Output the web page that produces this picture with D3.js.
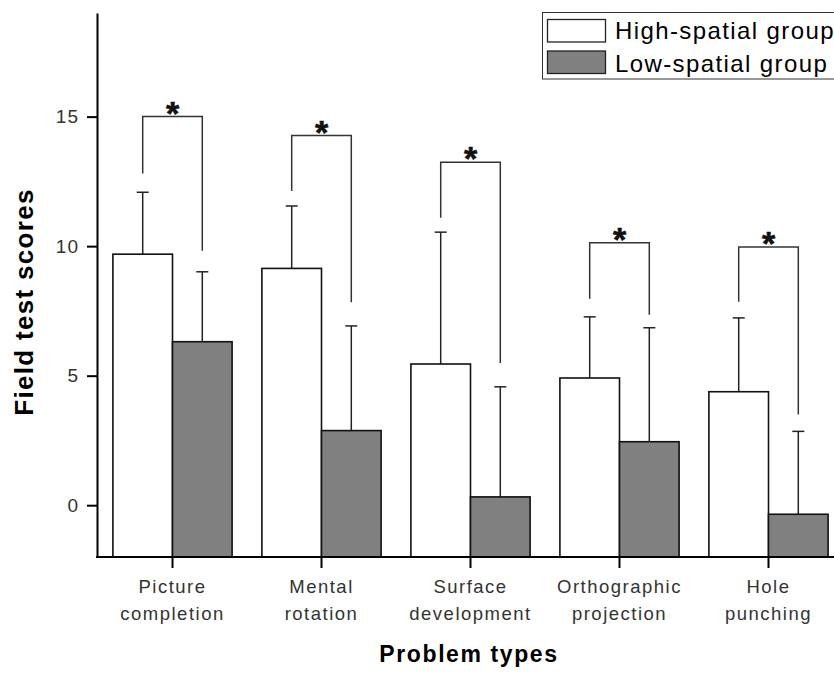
<!DOCTYPE html>
<html>
<head>
<meta charset="utf-8">
<script src="https://cdn.jsdelivr.net/npm/d3@7"></script>
<style>
  html, body { margin: 0; padding: 0; background: #fff; }
  svg { display: block; }
  text { font-family: "Liberation Sans", Arial, sans-serif; }
</style>
</head>
<body>
<svg id="chart" width="834" height="673"></svg>
<script>
// ---- data ----
const categories = [["Picture", "completion"], ["Mental", "rotation"], ["Surface", "development"], ["Orthographic", "projection"], ["Hole", "punching"]];
const seriesNames = ["High-spatial group", "Low-spatial group"];
const highMeans = [9.69, 9.14, 5.45, 4.91, 4.38];
const highSD = [2.39, 2.41, 5.09, 2.36, 2.85];
const lowMeans = [6.31, 2.88, 0.32, 2.45, -0.35];
const lowSD = [2.70, 4.04, 4.25, 4.40, 3.20];
const bracketTop = [15.0, 14.27, 13.24, 10.13, 9.97];
const bracketLeftEnd = [12.8, 12.13, 11.1, 7.97, 7.85];
const bracketRightEnd = [9.82, 7.83, 5.49, 7.35, 3.5];
const yTicks = [0, 5, 10, 15];
const yDomain = [-2, 19];

const svg = d3.select("#chart");
const keys = categories.map(c => c.join(" "));

const y = d3.scaleLinear().domain(yDomain).range([557, 13]);
const x0 = d3.scaleBand().domain(keys).range([98, 843]).paddingInner(0.2).paddingOuter(0.1);
const x1 = d3.scaleBand().domain(seriesNames).range([0, x0.bandwidth()]);
const fills = {"High-spatial group": "#ffffff", "Low-spatial group": "#808080"};

const rows = keys.map((k, i) => ({
  key: k, i,
  vals: [
    {s: seriesNames[0], m: highMeans[i], sd: highSD[i]},
    {s: seriesNames[1], m: lowMeans[i], sd: lowSD[i]}
  ]
}));

// bars
const g = svg.append("g");
const grp = g.selectAll("g.grp").data(rows).join("g")
  .attr("transform", d => `translate(${x0(d.key)},0)`);

// error bars (upward only)
grp.selectAll("g.err").data(d => d.vals).join("g").each(function(d) {
  const cx = x1(d.s) + x1.bandwidth() / 2;
  const e = d3.select(this);
  e.append("line").attr("x1", cx).attr("x2", cx).attr("y1", y(d.m)).attr("y2", y(d.m + d.sd))
    .attr("stroke", "#222").attr("stroke-width", 1.5);
  e.append("line").attr("x1", cx - 6).attr("x2", cx + 6).attr("y1", y(d.m + d.sd)).attr("y2", y(d.m + d.sd))
    .attr("stroke", "#222").attr("stroke-width", 1.5);
});

grp.selectAll("rect").data(d => d.vals).join("rect")
  .attr("x", d => x1(d.s))
  .attr("width", x1.bandwidth())
  .attr("y", d => y(d.m))
  .attr("height", d => y(yDomain[0]) - y(d.m))
  .attr("fill", d => fills[d.s])
  .attr("stroke", "#111").attr("stroke-width", 1.6);

// significance brackets
rows.forEach(r => {
  const base = x0(r.key);
  const lx = base + x1(seriesNames[0]) + x1.bandwidth() / 2;
  const rx = base + x1(seriesNames[1]) + x1.bandwidth() / 2;
  const i = r.i;
  svg.append("path")
    .attr("d", `M${lx},${y(bracketLeftEnd[i])}V${y(bracketTop[i])}H${rx}V${y(bracketRightEnd[i])}`)
    .attr("fill", "none").attr("stroke", "#333").attr("stroke-width", 1.5);
  svg.append("text")
    .attr("x", (lx + rx) / 2).attr("y", y(bracketTop[i]) + 8)
    .attr("text-anchor", "middle")
    .attr("font-size", 34).attr("font-weight", "bold").attr("fill", "#111")
    .attr("stroke", "#111").attr("stroke-width", 0.6)
    .text("*");
});

// y axis
const yAxis = svg.append("g").attr("transform", "translate(97,0)")
  .call(d3.axisLeft(y).tickValues(yTicks).tickSize(10).tickSizeOuter(0).tickPadding(8));
yAxis.select(".domain").attr("stroke", "#000").attr("stroke-width", 2);
yAxis.selectAll(".tick line").attr("stroke", "#000").attr("stroke-width", 2);
yAxis.selectAll(".tick text").attr("font-size", 19).attr("fill", "#333")
  .attr("font-family", "Liberation Sans, Arial, sans-serif").attr("letter-spacing", 1);

// x axis
const xAxis = svg.append("g").attr("transform", `translate(0,${y(yDomain[0])})`)
  .call(d3.axisBottom(x0).tickSize(11).tickSizeOuter(0).tickFormat(() => ""));
xAxis.select(".domain").attr("stroke", "#000").attr("stroke-width", 2)
  .attr("d", `M96,0H843`);
xAxis.selectAll(".tick line").attr("stroke", "#000").attr("stroke-width", 2);
xAxis.selectAll(".tick").each(function(k, i) {
  const t = d3.select(this).append("text")
    .attr("text-anchor", "middle").attr("fill", "#333")
    .attr("font-size", 18.5).attr("letter-spacing", 1.5)
    .attr("font-family", "Liberation Sans, Arial, sans-serif");
  t.append("tspan").attr("x", 0).attr("y", 36).text(categories[i][0]);
  t.append("tspan").attr("x", 0).attr("y", 63).text(categories[i][1]);
});

// axis titles
svg.append("text").attr("x", 469).attr("y", 662).attr("text-anchor", "middle")
  .attr("font-size", 23).attr("font-weight", "bold").attr("letter-spacing", 1.6).attr("fill", "#000")
  .text("Problem types");
svg.append("text").attr("transform", "translate(33,302) rotate(-90)").attr("text-anchor", "middle")
  .attr("font-size", 26).attr("font-weight", "bold").attr("letter-spacing", 1.3).attr("fill", "#000")
  .text("Field test scores");

// legend
const lg = svg.append("g");
lg.append("rect").attr("x", 542.5).attr("y", 12.5).attr("width", 300).attr("height", 66.5)
  .attr("fill", "#fff").attr("stroke", "#333").attr("stroke-width", 1);
seriesNames.forEach((s, i) => {
  lg.append("rect").attr("x", 547.5).attr("y", 19.5 + i * 31.5).attr("width", 58).attr("height", 22.5)
    .attr("fill", fills[s]).attr("stroke", "#222").attr("stroke-width", 1.3);
  lg.append("text").attr("x", 615).attr("y", 38.5 + i * 33).attr("font-size", 24)
    .attr("letter-spacing", 1.4).attr("fill", "#000")
    .text(s);
});
</script>
</body>
</html>
